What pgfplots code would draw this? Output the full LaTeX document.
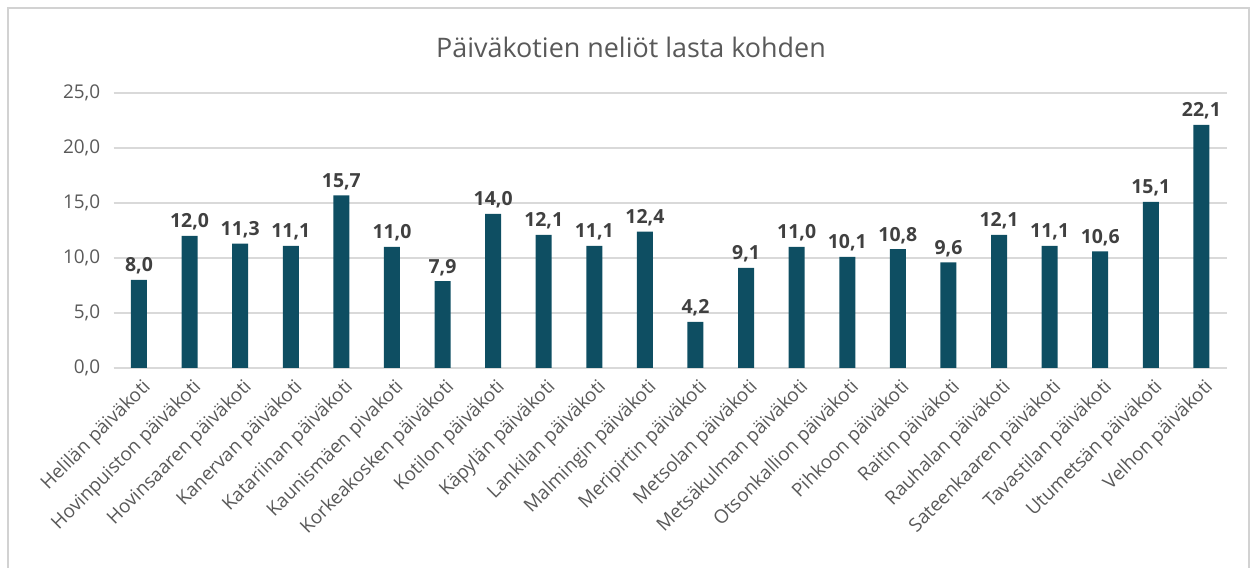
\documentclass[border=0pt]{standalone}
\usepackage{fontspec}
\setmainfont{Open Sans}
\usepackage{pgfplots}
\pgfplotsset{compat=1.18}
\definecolor{barteal}{RGB}{14,78,98}
\definecolor{gridgrey}{RGB}{217,217,217}
\definecolor{txtgrey}{RGB}{89,89,89}
\definecolor{lblgrey}{RGB}{64,64,64}
\definecolor{framegrey}{RGB}{210,210,210}

\begin{document}
\begin{tikzpicture}[x=1bp,y=1bp]
\useasboundingbox (0,0) rectangle (1253,568);
\begin{scope}
\clip (0,0) rectangle (1253,568);
\draw[framegrey, line width=1.5bp] (8,-20) rectangle (1249,560);
\end{scope}
\node[txtgrey, font=\fontsize{27}{32}\selectfont] at (631,521) {Päiväkotien neliöt lasta kohden};
\begin{axis}[
    at={(113.7bp,200bp)}, anchor=south west,
    scale only axis,
    width=1113bp, height=275bp,
    ymin=0, ymax=25,
    xmin=-0.5, xmax=21.5,
    ybar, bar width=16bp,
    axis line style={draw=none},
    ymajorgrids, grid style={gridgrey, line width=1.3bp},
    ytick={0,5,...,25},
    xtick={0,...,21},
    major tick length=0pt,
    xticklabels={Helilän päiväkoti, Hovinpuiston päiväkoti, Hovinsaaren päiväkoti, Kanervan päiväkoti, Katariinan päiväkoti, Kaunismäen pivakoti, Korkeakosken päiväkoti, Kotilon päiväkoti, Käpylän päiväkoti, Lankilan päiväkoti, Malmingin päiväkoti, Meripirtin päiväkoti, Metsolan päiväkoti, Metsäkulman päiväkoti, Otsonkallion päiväkoti, Pihkoon päiväkoti, Raitin päiväkoti, Rauhalan päiväkoti, Sateenkaaren päiväkoti, Tavastilan päiväkoti, Utumetsän päiväkoti, Velhon päiväkoti},
    xticklabel style={xshift=2bp, yshift=-8bp, rotate=45, anchor=north east, font=\fontsize{19}{22}\selectfont, text=txtgrey, inner sep=1bp},
    yticklabel style={font=\fontsize{19}{22}\selectfont, text=txtgrey, xshift=-10bp},
    /pgf/number format/.cd, fixed, fixed zerofill, precision=1, use comma, assume math mode=true,
    /pgfplots/.cd,
    nodes near coords,
    every node near coord/.append style={font=\bfseries\fontsize{19.5}{22}\selectfont, text=lblgrey, yshift=2bp},
    clip=false,
]
\draw[gridgrey, line width=1.3bp] (axis cs:-0.5,0) -- (axis cs:21.5,0);
\addplot[fill=barteal, draw=none] coordinates {
    (0,8.0) (1,12.0) (2,11.3) (3,11.1) (4,15.7) (5,11.0) (6,7.9) (7,14.0)
    (8,12.1) (9,11.1) (10,12.4) (11,4.2) (12,9.1) (13,11.0) (14,10.1) (15,10.8)
    (16,9.6) (17,12.1) (18,11.1) (19,10.6) (20,15.1) (21,22.1)
};
\end{axis}
\end{tikzpicture}
\end{document}
